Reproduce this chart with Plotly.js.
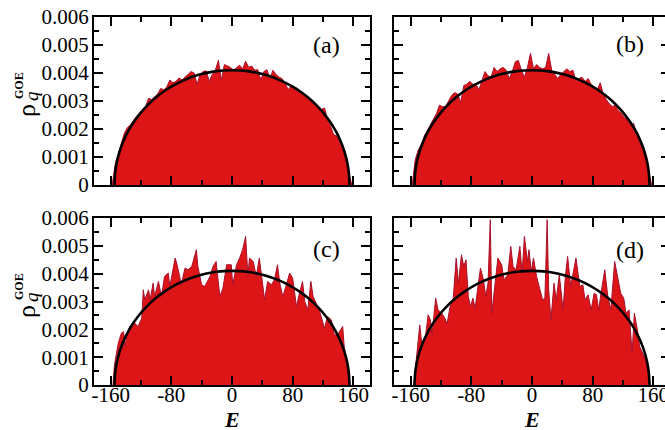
<!DOCTYPE html>
<html><head><meta charset="utf-8">
<script src="https://cdn.plot.ly/plotly-3.0.1.min.js"></script>
<style>html,body{margin:0;padding:0;overflow:hidden;background:#fff;width:665px;height:430px}#chart{width:680px;height:430px}</style>
</head><body><div id="chart"></div><script>
// shared energy grid for panels (a) and (b)
const gridE = [-158,-154,-150,-146,-142,-138,-134,-130,-126,-122,-118,-114,-110,-106,-102,-98,-94,-90,-86,-82,-78,-74,-70,-66,-62,-58,-54,-50,-46,-42,-38,-34,-30,-26,-22,-18,-14,-10,-6,-2,2,6,10,14,18,22,26,30,34,38,42,46,50,54,58,62,66,70,74,78,82,86,90,94,98,102,106,110,114,118,122,126,130,134,138,142,146,150,154,158];
const rhoA = [0,0.00075,0.00110,0.00145,0.00185,0.00205,0.00215,0.00230,0.00245,0.00255,0.00270,0.00280,0.00310,0.00305,0.00315,0.00325,0.00345,0.00340,0.00350,0.00375,0.00365,0.00370,0.00382,0.00375,0.00385,0.00395,0.00405,0.00400,0.00360,0.00395,0.00405,0.00408,0.00370,0.00395,0.00410,0.00445,0.00375,0.00430,0.00425,0.00420,
0.00410,0.00420,0.00428,0.00415,0.00442,0.00420,0.00425,0.00410,0.00412,0.00375,0.00405,0.00412,0.00380,0.00410,0.00395,0.00385,0.00380,0.00365,0.00340,0.00355,0.00350,0.00345,0.00335,0.00325,0.00315,0.00310,0.00295,0.00290,0.00280,0.00270,0.00275,0.00235,0.00210,0.00180,0.00175,0.00165,0.00140,0.00095,0.00040,0];
const rhoB = [0,0.00090,0.00125,0.00145,0.00175,0.00195,0.00215,0.00235,0.00255,0.00285,0.00280,0.00280,0.00300,0.00320,0.00330,0.00325,0.00295,0.00355,0.00360,0.00370,0.00360,0.00360,0.00340,0.00370,0.00405,0.00390,0.00385,0.00420,0.00405,0.00415,0.00420,0.00410,0.00380,0.00405,0.00440,0.00445,0.00410,0.00385,0.00420,0.00470,
0.00415,0.00430,0.00420,0.00415,0.00420,0.00470,0.00410,0.00395,0.00380,0.00395,0.00405,0.00415,0.00405,0.00410,0.00370,0.00380,0.00385,0.00370,0.00380,0.00360,0.00350,0.00340,0.00365,0.00325,0.00305,0.00290,0.00280,0.00285,0.00265,0.00255,0.00240,0.00235,0.00215,0.00220,0.00185,0.00150,0.00130,0.00095,0.00045,0];
// panel (c)
const energyC = [-157,-155,-150,-146,-143,-141,-139,-135,-128,-124,-119,-117,-115,-110,-108,-104,-102,-97,-93,-89,-84,-82,-75,-73,-69,-67,-62,-58,-53,-47,-45,-40,-36,-29,-25,-21,-16,-12,-7,-1,1,6,10,14,18,21,23,28,32,36,40,43,47,52,56,60,63,67,71,76,80,85,89,93,96,100,104,107,111,115,122,126,131,135,139,146,148,150,153,155];
const rhoC = [0,0.00072,0.00150,0.00186,0.00192,0.00138,0.00174,0.00210,0.00222,0.00210,0.00240,0.00342,0.00306,0.00342,0.00306,0.00366,0.00318,0.00372,0.00318,0.00390,0.00402,0.00354,0.00456,0.00438,0.00390,0.00360,0.00420,0.00414,0.00426,0.00486,0.00426,0.00360,0.00354,0.00390,0.00426,0.00444,0.00318,0.00348,0.00432,0.00432,0.00360,0.00432,0.00456,0.00486,0.00534,0.00390,0.00456,0.00444,0.00390,0.00456,0.00372,0.00306,0.00372,0.00360,0.00378,0.00432,0.00366,0.00318,0.00354,0.00402,0.00384,0.00282,0.00330,0.00372,0.00300,0.00270,0.00372,0.00318,0.00294,0.00270,0.00204,0.00246,0.00234,0.00180,0.00180,0.00210,0.00138,0.00090,0.00042,0];
// panel (d)
const energyD = [-156,-152,-148,-145,-141,-137,-134,-132,-127,-124,-119,-115,-112,-108,-104,-100,-97,-93,-90,-87,-84,-81,-78,-75,-71,-68,-64,-61,-58,-55,-53,-49,-45,-40,-37,-32,-28,-25,-21,-16,-13,-10,-6,-4,-1,2,6,10,14,17,20,22,25,29,32,36,41,44,47,51,55,58,63,67,70,74,78,82,85,88,91,96,100,104,109,113,117,121,124,128,132,135,139,142,145,148,153,156];
const rhoD = [0,0.00102,0.00216,0.00138,0.00162,0.00252,0.00234,0.00180,0.00312,0.00270,0.00258,0.00240,0.00220,0.00282,0.00306,0.00456,0.00366,0.00468,0.00426,0.00450,0.00318,0.00282,0.00312,0.00276,0.00348,0.00420,0.00378,0.00318,0.00366,0.00594,0.00258,0.00354,0.00456,0.00432,0.00378,0.00396,0.00498,0.00426,0.00414,0.00498,0.00402,0.00534,0.00444,0.00486,0.00408,0.00456,0.00390,0.00348,0.00306,0.00312,0.00594,0.00342,0.00234,0.00366,0.00306,0.00396,0.00270,0.00390,0.00462,0.00354,0.00414,0.00456,0.00354,0.00360,0.00306,0.00324,0.00270,0.00330,0.00324,0.00270,0.00330,0.00414,0.00318,0.00270,0.00444,0.00390,0.00330,0.00312,0.00258,0.00270,0.00114,0.00258,0.00198,0.00138,0.00120,0.00102,0.00054,0];
// GOE semicircle
const semiE = [-155,-154,-152,-150,-146,-142,-138,-134,-130,-120,-110,-100,-90,-80,-70,-60,-50,-40,-30,-20,-10,0,10,20,30,40,50,60,70,80,90,100,110,120,130,134,138,142,146,150,152,154,155];
const semiRho = [0,0.000465,0.000803,0.001033,0.001377,0.001644,0.001867,0.002061,0.002233,0.002595,0.002889,0.003133,0.003338,0.003512,0.003658,0.003780,0.003881,0.003961,0.004022,0.004066,0.004091,0.004100,0.004091,0.004066,0.004022,0.003961,0.003881,0.003780,0.003658,0.003512,0.003338,0.003133,0.002889,0.002595,0.002233,0.002061,0.001867,0.001644,0.001377,0.001033,0.000803,0.000465,0];
const panelLabels = ['(a)','(b)','(c)','(d)'];
const xTicks = [-160,-80,0,80,160];
const yTicks = [0,0.001,0.002,0.003,0.004,0.005,0.006];

const FILL = '#DD1517', EDGE = '#A8102C';
const panels = [
  {x: gridE, y: rhoA}, {x: gridE, y: rhoB}, {x: energyC, y: rhoC}, {x: energyD, y: rhoD}
];
const traces = [];
panels.forEach((p, i) => {
  const s = i === 0 ? '' : String(i + 1);
  traces.push({x: p.x, y: p.y, type: 'scatter', mode: 'lines', fill: 'tozeroy',
    fillcolor: FILL, line: {color: EDGE, width: 1}, xaxis: 'x' + s, yaxis: 'y' + s, hoverinfo: 'skip'});
  traces.push({x: semiE, y: semiRho, type: 'scatter', mode: 'lines',
    line: {color: 'black', width: 2.6, shape: 'spline', smoothing: 0.6}, xaxis: 'x' + s, yaxis: 'y' + s, hoverinfo: 'skip'});
});

const ML = 94, MR = 10, MT = 17, MB = 45, W = 680, H = 430;
const PW = W - ML - MR, PH = H - MT - MB;
const px = v => (v - ML) / PW, py = v => (H - MB - v) / PH;
const FAM = 'Liberation Serif';
const font = {family: FAM, size: 21, color: 'black'};
const xDom = [[0, 276 / PW], [300 / PW, 1]];
const yDom = [[(385 - 185) / PH, 1], [0, 167 / PH]];

function xAxis(dom, anchor, labels) {
  return {domain: dom, anchor: anchor, range: [-182, 182], showline: true, linecolor: 'black', linewidth: 2,
    mirror: 'allticks', ticks: 'inside', ticklen: 9, tickwidth: 2, tickcolor: 'black',
    tickmode: 'array', tickvals: xTicks, ticktext: xTicks.map(String), showticklabels: labels,
    ticklabelstandoff: -10,
    minor: {ticks: 'inside', ticklen: 5, tickwidth: 2, tickcolor: 'black', tickmode: 'linear', tick0: 40, dtick: 80},
    showgrid: false, zeroline: false, tickfont: font, fixedrange: true};
}
function yAxis(dom, anchor, labels) {
  return {domain: dom, anchor: anchor, range: [0, 0.006], showline: true, linecolor: 'black', linewidth: 2,
    mirror: 'allticks', ticks: 'inside', ticklen: 9, tickwidth: 2, tickcolor: 'black',
    tickmode: 'array', tickvals: yTicks, ticktext: yTicks.map(v => v === 0 ? '0' : v.toFixed(3)), showticklabels: labels,
    ticklabelstandoff: -1,
    minor: {ticks: 'inside', ticklen: 5, tickwidth: 2, tickcolor: 'black', tickmode: 'linear', tick0: 0.0005, dtick: 0.001},
    showgrid: false, zeroline: false, tickfont: font, fixedrange: true};
}

const layout = {
  width: W, height: H, margin: {l: ML, r: MR, t: MT, b: MB}, showlegend: false,
  paper_bgcolor: 'white', plot_bgcolor: 'white',
  xaxis: xAxis(xDom[0], 'y', false), yaxis: yAxis(yDom[0], 'x', true),
  xaxis2: xAxis(xDom[1], 'y2', false), yaxis2: yAxis(yDom[0], 'x2', false),
  xaxis3: xAxis(xDom[0], 'y3', true), yaxis3: yAxis(yDom[1], 'x3', true),
  xaxis4: xAxis(xDom[1], 'y4', true), yaxis4: yAxis(yDom[1], 'x4', false),
  annotations: []
};
const A = layout.annotations;
const labelPos = [[326, 45], [630, 44], [326, 249], [630, 250]];
panelLabels.forEach((t, i) => A.push({text: t, xref: 'paper', yref: 'paper', x: px(labelPos[i][0]), y: py(labelPos[i][1]),
  xanchor: 'center', yanchor: 'middle', showarrow: false, font: {family: FAM, size: 24, color: 'black'}}));
[0, 201].forEach(dy => {
  A.push({text: 'ρ', xref: 'paper', yref: 'paper', x: px(26), y: py(111 + dy), xanchor: 'center', yanchor: 'middle',
    textangle: -90, showarrow: false, font: {family: FAM, size: 26, color: 'black'}});
  A.push({text: '<i>q</i>', xref: 'paper', yref: 'paper', x: px(31), y: py(96 + dy), xanchor: 'center', yanchor: 'middle',
    textangle: -90, showarrow: false, font: {family: FAM, size: 19, color: 'black'}});
  A.push({text: '<b>GOE</b>', xref: 'paper', yref: 'paper', x: px(19), y: py(86 + dy), xanchor: 'center', yanchor: 'middle',
    textangle: -90, showarrow: false, font: {family: FAM, size: 12, color: 'black'}});
});
[232, 532].forEach(x => A.push({text: '<b><i>E</i></b>', xref: 'paper', yref: 'paper', x: px(x), y: py(419),
  xanchor: 'center', yanchor: 'middle', showarrow: false, font: {family: FAM, size: 22, color: 'black'}}));

Plotly.newPlot('chart', traces, layout, {staticPlot: true, displayModeBar: false});
</script></body></html>
